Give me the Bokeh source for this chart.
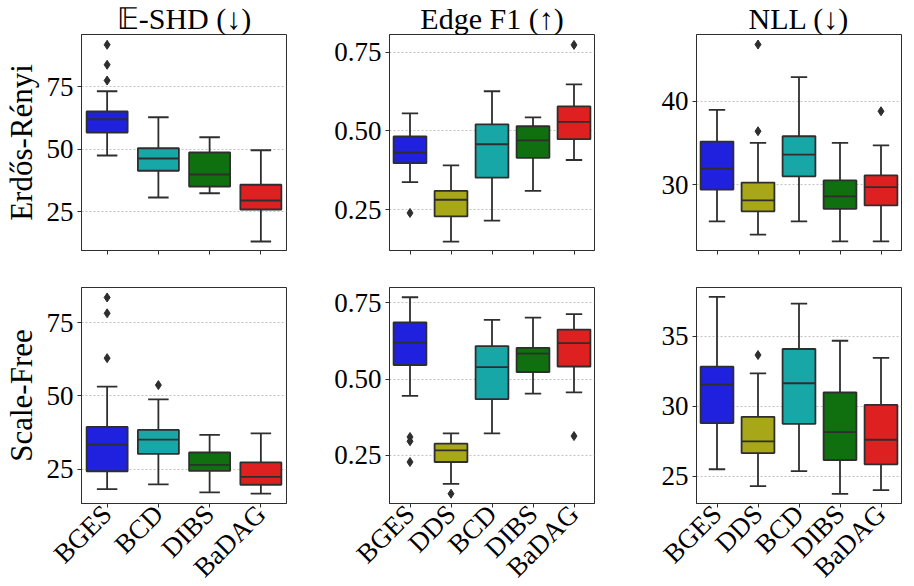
import math
from bokeh.plotting import figure
from bokeh.layouts import gridplot
from bokeh.models import FactorRange, Range1d, FixedTicker, ColumnDataSource, NumeralTickFormatter
from bokeh.transform import dodge
from bokeh.embed import file_html
from bokeh.resources import INLINE

# ---------------- data ----------------
methods4 = ["BGES", "BCD", "DIBS", "BaDAG"]
methods5 = ["BGES", "DDS", "BCD", "DIBS", "BaDAG"]
method_colors = {"BGES": "#2020df", "DDS": "#a7a718", "BCD": "#18a7a7",
                 "DIBS": "#107010", "BaDAG": "#df2020"}

col_titles = ["\U0001D53C-SHD (\u2193)", "Edge F1 (\u2191)", "NLL (\u2193)"]
row_labels = ["Erd\u0151s-R\u00e9nyi", "Scale-Free"]

# Erdos-Renyi, E-SHD
er_shd_q1 = [56.6, 41.3, 35.0, 25.8]
er_shd_med = [61.9, 46.2, 39.8, 29.4]
er_shd_q3 = [65.0, 50.3, 48.6, 35.7]
er_shd_lo = [47.4, 30.6, 32.3, 13.0]
er_shd_hi = [73.1, 62.7, 54.7, 49.5]
er_shd_out_x = ["BGES", "BGES", "BGES"]
er_shd_out_y = [91.7, 83.7, 77.4]

# Erdos-Renyi, Edge F1
er_f1_q1 = [0.398, 0.229, 0.352, 0.415, 0.474]
er_f1_med = [0.431, 0.282, 0.458, 0.470, 0.529]
er_f1_q3 = [0.4825, 0.310, 0.521, 0.515, 0.578]
er_f1_lo = [0.338, 0.149, 0.216, 0.310, 0.408]
er_f1_hi = [0.556, 0.391, 0.626, 0.543, 0.648]
er_f1_out_x = ["BGES", "BaDAG"]
er_f1_out_y = [0.240, 0.773]

# Erdos-Renyi, NLL
er_nll_q1 = [29.4, 26.8, 31.0, 27.1, 27.5]
er_nll_med = [31.9, 28.1, 33.6, 28.6, 29.7]
er_nll_q3 = [35.16, 30.24, 35.8, 30.5, 31.1]
er_nll_lo = [25.6, 24.0, 25.6, 23.2, 23.2]
er_nll_hi = [38.97, 35.0, 42.9, 35.0, 34.7]
er_nll_out_x = ["DDS", "DDS", "BaDAG"]
er_nll_out_y = [46.8, 36.4, 38.8]

# Scale-Free, E-SHD
sf_shd_q1 = [24.3, 30.2, 24.4, 19.7]
sf_shd_med = [33.4, 35.1, 26.5, 22.4]
sf_shd_q3 = [39.4, 38.4, 30.7, 27.3]
sf_shd_lo = [18.2, 19.8, 17.1, 16.7]
sf_shd_hi = [53.2, 48.8, 36.7, 37.2]
sf_shd_out_x = ["BGES", "BGES", "BGES", "BCD"]
sf_shd_out_y = [83.6, 78.2, 62.9, 53.7]

# Scale-Free, Edge F1
sf_f1_q1 = [0.546, 0.228, 0.434, 0.523, 0.541]
sf_f1_med = [0.619, 0.266, 0.539, 0.583, 0.618]
sf_f1_q3 = [0.686, 0.288, 0.608, 0.602, 0.662]
sf_f1_lo = [0.445, 0.156, 0.322, 0.452, 0.456]
sf_f1_hi = [0.768, 0.322, 0.694, 0.701, 0.713]
sf_f1_out_x = ["BGES", "BGES", "BGES", "DDS", "BaDAG"]
sf_f1_out_y = [0.310, 0.296, 0.228, 0.124, 0.313]

# Scale-Free, NLL
sf_nll_q1 = [28.8, 26.66, 28.75, 26.16, 25.85]
sf_nll_med = [31.56, 27.5, 31.65, 28.16, 27.61]
sf_nll_q3 = [32.84, 29.25, 34.1, 30.99, 30.1]
sf_nll_lo = [25.5, 24.29, 25.36, 23.74, 24.0]
sf_nll_hi = [37.83, 32.36, 37.35, 34.69, 33.46]
sf_nll_out_x = ["DDS"]
sf_nll_out_y = [33.67]

y_ranges = [(9.4, 95.8), (0.121, 0.806), (22.1, 48.0),
            (13.3, 87.0), (0.092, 0.800), (23.05, 38.5)]
y_ticks = [[25, 50, 75], [0.25, 0.50, 0.75], [30, 40],
           [25, 50, 75], [0.25, 0.50, 0.75], [25, 30, 35]]

# ---------------- style ----------------
FONT = "Liberation Serif"
LC = "#2e2e2e"
LW = 1.8

left_borders = [75, 93, 92]
right_borders = [10, 10, 3]


def make_panel(row, col, cats, q1, med, q3, lo, hi, out_x, out_y):
    idx = row * 3 + col
    p = figure(x_range=FactorRange(*cats, range_padding=0),
               y_range=Range1d(*y_ranges[idx]),
               frame_width=205, frame_height=216,
               output_backend="svg", toolbar_location=None,
               min_border_left=left_borders[col], min_border_right=right_borders[col],
               min_border_top=0 if row == 0 else 27,
               min_border_bottom=10 if row == 0 else 0,
               background_fill_color="white", border_fill_color="white")
    if row == 0:
        p.title.text = col_titles[col]
        p.title.text_font = FONT
        p.title.text_font_size = "30px"
        p.title.text_font_style = "normal"
        p.title.text_color = "black"
        p.title.align = "center"
        p.title.standoff = -1
    src = ColumnDataSource(dict(cat=cats, q1=q1, med=med, q3=q3, lo=lo, hi=hi,
                                color=[method_colors[c] for c in cats]))
    # whiskers
    p.segment(x0="cat", y0="q3", x1="cat", y1="hi", source=src, line_color=LC, line_width=LW)
    p.segment(x0="cat", y0="q1", x1="cat", y1="lo", source=src, line_color=LC, line_width=LW)
    # caps
    p.segment(x0=dodge("cat", -0.2, range=p.x_range), y0="hi",
              x1=dodge("cat", 0.2, range=p.x_range), y1="hi",
              source=src, line_color=LC, line_width=LW)
    p.segment(x0=dodge("cat", -0.2, range=p.x_range), y0="lo",
              x1=dodge("cat", 0.2, range=p.x_range), y1="lo",
              source=src, line_color=LC, line_width=LW)
    # boxes
    p.vbar(x="cat", top="q3", bottom="q1", width=0.8, source=src,
           fill_color="color", line_color=LC, line_width=LW)
    # medians
    p.segment(x0=dodge("cat", -0.4, range=p.x_range), y0="med",
              x1=dodge("cat", 0.4, range=p.x_range), y1="med",
              source=src, line_color=LC, line_width=LW)
    # outliers
    p.scatter(x=out_x, y=out_y, marker="diamond", size=9,
              fill_color=LC, line_color=LC)

    p.xgrid.visible = False
    p.ygrid.grid_line_color = "#b5b5b5"
    p.ygrid.grid_line_dash = "2 2"
    p.ygrid.grid_line_width = 0.8

    p.outline_line_color = LC
    p.outline_line_width = 1
    for ax in (p.xaxis[0], p.yaxis[0]):
        ax.axis_line_color = LC
        ax.major_tick_line_color = LC
        ax.major_tick_out = 4
        ax.major_tick_in = 0
        ax.minor_tick_line_color = None
        ax.major_label_text_font = FONT
        ax.major_label_text_font_style = "normal"
        ax.major_label_text_color = "black"
    p.yaxis.ticker = FixedTicker(ticks=y_ticks[idx])
    if idx in (1, 4):
        p.yaxis.formatter = NumeralTickFormatter(format="0.00")
    p.yaxis.major_label_text_font_size = "27px"
    p.yaxis.major_label_standoff = 4
    if col == 0:
        p.yaxis.axis_label = row_labels[row]
        p.yaxis.axis_label_text_font = FONT
        p.yaxis.axis_label_text_font_size = "31px"
        p.yaxis.axis_label_text_font_style = "normal"
        p.yaxis.axis_label_text_color = "black"
        p.yaxis.axis_label_standoff = 5
    if row == 0:
        # top row: tick marks only, labels not painted
        p.xaxis.major_label_text_font_size = "1px"
        p.xaxis.major_label_text_color = None
        p.xaxis.major_label_standoff = 0
    else:
        p.xaxis.major_label_text_font_size = "27px"
        p.xaxis.major_label_orientation = math.pi / 4
        p.xaxis.major_label_standoff = 2
    return p


p1 = make_panel(0, 0, methods4, er_shd_q1, er_shd_med, er_shd_q3, er_shd_lo, er_shd_hi, er_shd_out_x, er_shd_out_y)
p2 = make_panel(0, 1, methods5, er_f1_q1, er_f1_med, er_f1_q3, er_f1_lo, er_f1_hi, er_f1_out_x, er_f1_out_y)
p3 = make_panel(0, 2, methods5, er_nll_q1, er_nll_med, er_nll_q3, er_nll_lo, er_nll_hi, er_nll_out_x, er_nll_out_y)
p4 = make_panel(1, 0, methods4, sf_shd_q1, sf_shd_med, sf_shd_q3, sf_shd_lo, sf_shd_hi, sf_shd_out_x, sf_shd_out_y)
p5 = make_panel(1, 1, methods5, sf_f1_q1, sf_f1_med, sf_f1_q3, sf_f1_lo, sf_f1_hi, sf_f1_out_x, sf_f1_out_y)
p6 = make_panel(1, 2, methods5, sf_nll_q1, sf_nll_med, sf_nll_q3, sf_nll_lo, sf_nll_hi, sf_nll_out_x, sf_nll_out_y)

grid = gridplot([[p1, p2, p3], [p4, p5, p6]], toolbar_location=None)

open("out.html", "w").write(file_html(grid, INLINE))
